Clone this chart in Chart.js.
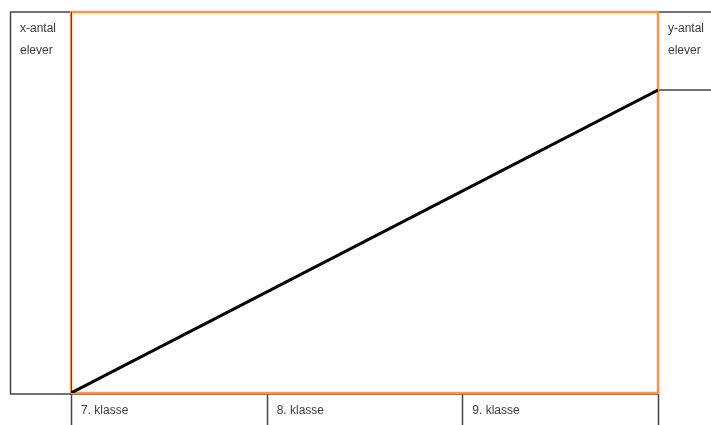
<!DOCTYPE html>
<html>
<head>
<meta charset="utf-8">
<title>antal elever</title>
<script src="https://cdn.jsdelivr.net/npm/chart.js@4"></script>
<style>
  html, body { margin: 0; padding: 0; background: #fff; }
  #wrap { width: 711px; height: 425px; }
</style>
</head>
<body>
<div id="wrap"><canvas id="chart"></canvas></div>
<script>
/* ---- data ---- */
const categories = ['7. klasse', '8. klasse', '9. klasse'];
const lineX      = [0, 3];        // start of 7. klasse -> end of 9. klasse
const lineY      = [0, 79.5];     // share of plot height (0-100)
const yMax       = 100;
const leftLabel  = ['x-antal', 'elever'];
const rightLabel = ['y-antal', 'elever'];

const ORANGE = '#f79646';
const GREY   = '#444';
const TEXT   = '#3b3b3b';
const FONT   = "12px 'Liberation Sans', Arial, sans-serif";

/* ---- frame: boxes, orange border, dividers, side texts ---- */
const framePlugin = {
  id: 'frame',
  beforeDatasetsDraw(chart) {
    const { ctx, chartArea: a, scales: { x } } = chart;
    const H = chart.height;
    ctx.save();
    ctx.lineWidth = 1.5;
    ctx.strokeStyle = GREY;

    // left box
    ctx.beginPath();
    ctx.moveTo(a.left, a.top);
    ctx.lineTo(10.5, a.top);
    ctx.lineTo(10.5, a.bottom + 1);
    ctx.lineTo(a.right, a.bottom + 1);
    ctx.stroke();

    // right box
    const yEnd = chart.scales.y.getPixelForValue(lineY[lineY.length - 1]);
    ctx.beginPath();
    ctx.moveTo(a.right, a.top);
    ctx.lineTo(chart.width, a.top);
    ctx.moveTo(a.right, yEnd);
    ctx.lineTo(chart.width, yEnd);
    ctx.stroke();

    // dividers under the axis
    ctx.beginPath();
    for (let i = 0; i <= categories.length; i++) {
      const px = Math.round(x.getPixelForValue(i)) + 0.5;
      ctx.moveTo(px, a.bottom);
      ctx.lineTo(px, H);
    }
    ctx.stroke();

    // orange plot border
    ctx.strokeStyle = ORANGE;
    ctx.lineWidth = 2.5;
    ctx.beginPath();
    ctx.moveTo(a.left, a.bottom);
    ctx.lineTo(a.left, a.top);
    ctx.lineTo(a.right, a.top);
    ctx.lineTo(a.right, a.bottom);
    ctx.lineTo(a.left, a.bottom);
    ctx.stroke();
    ctx.strokeStyle = GREY;
    ctx.lineWidth = 1;
    ctx.beginPath();
    ctx.moveTo(a.left + 0.5, a.top);
    ctx.lineTo(a.left + 0.5, a.bottom);
    ctx.stroke();

    // side texts
    ctx.fillStyle = TEXT;
    ctx.font = FONT;
    ctx.textBaseline = 'middle';
    leftLabel.forEach((t, i) => ctx.fillText(t, 20, 29 + i * 22));
    rightLabel.forEach((t, i) => ctx.fillText(t, a.right + 10, 29 + i * 22));
    ctx.restore();
  }
};

new Chart(document.getElementById('chart'), {
  type: 'line',
  data: {
    datasets: [{
      data: lineX.map((v, i) => ({ x: v, y: lineY[i] })),
      borderColor: '#000',
      borderWidth: 3,
      pointRadius: 0,
      tension: 0,
      fill: false
    }]
  },
  options: {
    responsive: true,
    maintainAspectRatio: false,
    animation: false,
    layout: { padding: { left: 71, right: 53, top: 12, bottom: 0 } },
    plugins: { legend: { display: false }, tooltip: { enabled: false } },
    scales: {
      x: {
        type: 'linear',
        min: 0,
        max: categories.length,
        border: { display: false },
        grid: { display: false, drawTicks: false },
        afterFit: s => { s.height = 32; },
        afterBuildTicks: s => {
          s.ticks = categories.map((c, i) => ({ value: i }));
        },
        ticks: {
          align: 'start',
          labelOffset: 10,
          padding: 10,
          autoSkip: false,
          maxRotation: 0,
          color: TEXT,
          font: { size: 12, family: "'Liberation Sans', Arial, sans-serif" },
          callback: (v, i) => categories[i]
        }
      },
      y: {
        display: false,
        min: 0,
        max: yMax
      }
    }
  },
  plugins: [framePlugin]
});
</script>
</body>
</html>
